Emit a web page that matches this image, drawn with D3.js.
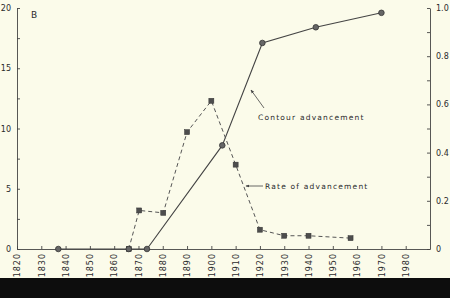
<!DOCTYPE html>
<html>
<head>
<meta charset="utf-8">
<script src="https://cdn.jsdelivr.net/npm/d3@7"></script>
<style>
  body { margin: 0; background: #fbfbea; }
  svg { display: block; }
  .axis text { font-family: "DejaVu Sans", sans-serif; font-size: 8px; fill: #2a2a2a; }
  .axis path, .axis line { stroke: #444; stroke-width: 0.9px; }
</style>
</head>
<body>
<div id="chart"></div>
<script>
////////////////////////////////////////////////////////////////////////////////
///////////////////////////////////////////////////////////////////////// Data
////////////////////////////////////////////////////////////////////////////////

// Contour advancement (fraction, right axis)
const contourYears = [1837, 1866, 1873.5, 1904.5, 1921, 1943, 1970];
const contourValues = [0, 0, 0, 0.43, 0.855, 0.92, 0.98];

// Rate of advancement (left axis)
const rateYears = [1866, 1870.3, 1880.2, 1890, 1900, 1910, 1920, 1930, 1940, 1957.3];
const rateValues = [0, 3.2, 3.0, 9.7, 12.3, 7.0, 1.6, 1.1, 1.1, 0.9];

// Tick values
const xTicks = d3.range(1820, 1981, 10);
const leftTicks = d3.range(0, 20.1, 2.5);
const rightTicks = d3.range(0, 1.01, 0.1);

////////////////////////////////////////////////////////////////////////////////
//////////////////////////////////////////////////////////////////////// Setup
////////////////////////////////////////////////////////////////////////////////

const W = 450;
const H = 298;
const plot = { left: 17, right: 430, top: 8, bottom: 249 };

const svg = d3.select("#chart")
              .append("svg")
                .attr("width", W)
                .attr("height", H);

svg.append("rect")
   .attr("width", W)
   .attr("height", H)
   .attr("fill", "#fbfbea");

// bottom dark band
svg.append("rect")
   .attr("y", 278)
   .attr("width", W)
   .attr("height", H - 278)
   .attr("fill", "#0d0d0d");

const xScale = d3.scaleLinear()
                 .domain([1820, 1990])
                 .range([plot.left, plot.right]);
const yScale = d3.scaleLinear()
                 .domain([0, 20])
                 .range([plot.bottom, plot.top]);
const y2Scale = d3.scaleLinear()
                  .domain([0, 1])
                  .range([plot.bottom, plot.top]);

////////////////////////////////////////////////////////////////////////////////
//////////////////////////////////////////////////////////////////////// Axes
////////////////////////////////////////////////////////////////////////////////

// Left axis, labels every 5
svg.append("g")
   .attr("class", "axis")
   .attr("transform", `translate(${plot.left},0)`)
   .call(d3.axisLeft(yScale)
           .tickValues(leftTicks)
           .tickSizeInner(-3)
           .tickSizeOuter(0)
           .tickPadding(6)
           .tickFormat(d => d % 5 === 0 ? d : ""));

// Right axis, labels every 0.2
svg.append("g")
   .attr("class", "axis")
   .attr("transform", `translate(${plot.right},0)`)
   .call(d3.axisRight(y2Scale)
           .tickValues(rightTicks)
           .tickSizeInner(-3)
           .tickSizeOuter(0)
           .tickPadding(6)
           .tickFormat(d => {
             let k = Math.round(d * 10);
             if (k % 2 !== 0) return "";
             if (k === 0) return "0";
             return d3.format(".1f")(d);
           }));

// X axis with rotated year labels
const xAxisG = svg.append("g")
   .attr("class", "axis")
   .attr("transform", `translate(0,${plot.bottom})`)
   .call(d3.axisBottom(xScale)
           .tickValues(xTicks)
           .tickSizeInner(-3)
           .tickSizeOuter(0)
           .tickFormat(d3.format("d")));

xAxisG.selectAll("text")
      .attr("transform", "rotate(-90)")
      .attr("x", -4)
      .attr("y", 0)
      .attr("dy", "0.35em")
      .style("text-anchor", "end")
      .style("letter-spacing", "1px");

////////////////////////////////////////////////////////////////////////////////
//////////////////////////////////////////////////////////////////////// Lines
////////////////////////////////////////////////////////////////////////////////

const contourData = contourYears.map((yr, i) => ({ x: yr, y: contourValues[i] }));
const rateData = rateYears.map((yr, i) => ({ x: yr, y: rateValues[i] }));

svg.append("path")
   .datum(contourData)
   .attr("fill", "none")
   .attr("stroke", "#444")
   .attr("stroke-width", 1.1)
   .attr("d", d3.line()
                .x(d => xScale(d.x))
                .y(d => y2Scale(d.y)));

svg.append("path")
   .datum(rateData)
   .attr("fill", "none")
   .attr("stroke", "#555")
   .attr("stroke-width", 1)
   .attr("stroke-dasharray", "4,3")
   .attr("d", d3.line()
                .x(d => xScale(d.x))
                .y(d => yScale(d.y)));

// markers
svg.selectAll(".rate-pt")
   .data(rateData)
   .join("rect")
     .attr("class", "rate-pt")
     .attr("x", d => xScale(d.x) - 2.5)
     .attr("y", d => yScale(d.y) - 2.5)
     .attr("width", 5)
     .attr("height", 5)
     .attr("fill", "#4d4d4d")
     .attr("stroke", "#333")
     .attr("stroke-width", 0.5);

svg.selectAll(".contour-pt")
   .data(contourData)
   .join("circle")
     .attr("class", "contour-pt")
     .attr("cx", d => xScale(d.x))
     .attr("cy", d => y2Scale(d.y))
     .attr("r", 2.8)
     .attr("fill", "#666")
     .attr("stroke", "#333")
     .attr("stroke-width", 0.8);

////////////////////////////////////////////////////////////////////////////////
////////////////////////////////////////////////////////////////// Annotations
////////////////////////////////////////////////////////////////////////////////

svg.append("defs")
   .append("marker")
     .attr("id", "arrow")
     .attr("viewBox", "0 0 6 6")
     .attr("refX", 5)
     .attr("refY", 3)
     .attr("markerWidth", 5)
     .attr("markerHeight", 5)
     .attr("orient", "auto")
   .append("path")
     .attr("d", "M0,0.8 L6,3 L0,5.2 Z")
     .attr("fill", "#444");

svg.append("text")
   .attr("x", 31)
   .attr("y", 18)
   .style("font-family", "DejaVu Sans, sans-serif")
   .style("font-size", "9px")
   .style("fill", "#2a2a2a")
   .text("B");

// Contour advancement label
svg.append("line")
   .attr("x1", 264).attr("y1", 108)
   .attr("x2", 251).attr("y2", 90)
   .attr("stroke", "#444")
   .attr("stroke-width", 0.8)
   .attr("marker-end", "url(#arrow)");

svg.append("text")
   .attr("x", 258)
   .attr("y", 120)
   .style("font-family", "DejaVu Sans, sans-serif")
   .style("font-size", "7.5px")
   .style("letter-spacing", "1.2px")
   .style("fill", "#2a2a2a")
   .text("Contour advancement");

// Rate of advancement label
svg.append("line")
   .attr("x1", 263).attr("y1", 186)
   .attr("x2", 246).attr("y2", 186)
   .attr("stroke", "#444")
   .attr("stroke-width", 0.8)
   .attr("marker-end", "url(#arrow)");

svg.append("text")
   .attr("x", 265)
   .attr("y", 189)
   .style("font-family", "DejaVu Sans, sans-serif")
   .style("font-size", "7.5px")
   .style("letter-spacing", "1.2px")
   .style("fill", "#2a2a2a")
   .text("Rate of advancement");
</script>
</body>
</html>
